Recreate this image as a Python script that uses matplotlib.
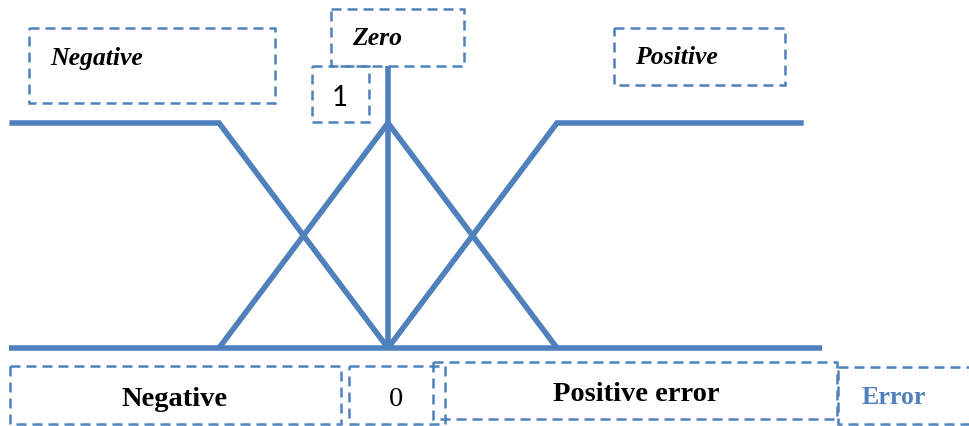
import matplotlib.pyplot as plt
from matplotlib.patches import Rectangle

# Membership functions (error axis, membership degree)
neg_x = [-2.24, -1.0, 0.0]
neg_mu = [1.0, 1.0, 0.0]
zero_x = [-1.0, 0.0, 1.0]
zero_mu = [0.0, 1.0, 0.0]
pos_x = [0.0, 1.0, 2.46]
pos_mu = [0.0, 1.0, 1.0]
base_x = [-2.24, 2.57]
axis_top = 1.253

blue = '#4F81BD'
serif = 'Liberation Serif'

fig = plt.figure(figsize=(9.7, 4.27), dpi=100)
ax = fig.add_axes([0, 0, 1, 1])
ax.set_xlim(-2.296, 3.444)
ax.set_ylim(-0.3467, 1.551)
ax.axis('off')

lw = 4.0
kw = dict(color=blue, lw=lw, solid_joinstyle='miter', solid_capstyle='butt')
ax.plot(base_x, [0, 0], **kw)
ax.plot([0, 0], [0, axis_top], **kw)
ax.plot(neg_x, neg_mu, **kw)
ax.plot(zero_x, zero_mu, **kw)
ax.plot(pos_x, pos_mu, **kw)

# overlay in pixel coordinates for the dashed label boxes
ov = fig.add_axes([0, 0, 1, 1])
ov.set_xlim(0, 970)
ov.set_ylim(427, 0)
ov.axis('off')
ov.patch.set_alpha(0)

boxes = [
    (29, 29, 246, 75),    # Negative (top)
    (331, 10, 133, 57),   # Zero
    (312, 67, 57, 56),    # 1
    (614, 29, 171, 57),   # Positive (top)
    (10, 367, 331, 58),   # Negative (bottom)
    (349, 367, 96, 58),   # 0
    (433, 363, 404, 57),  # Positive error
    (838, 368, 170, 57),  # Error (runs off the right edge)
]
for x, y, w, h in boxes:
    ov.add_patch(Rectangle((x, y), w, h, fill=False, edgecolor=blue,
                           lw=1.8, linestyle=(0, (4.0, 2.4)), clip_on=True))

ov.text(50, 65, 'Negative', family=serif, style='italic', weight='bold',
        fontsize=18.5, va='baseline', ha='left')
ov.text(352, 45, 'Zero', family=serif, style='italic', weight='bold',
        fontsize=18.5, va='baseline', ha='left')
ov.text(635, 64, 'Positive', family=serif, style='italic', weight='bold',
        fontsize=18.5, va='baseline', ha='left')
ov.text(340, 106, '1', family='Lato', fontsize=20, va='baseline', ha='center')
ov.text(175, 406, 'Negative', family=serif, weight='bold',
        fontsize=20.5, va='baseline', ha='center')
ov.text(396, 406, '0', family=serif, fontsize=20.5, va='baseline', ha='center')
ov.text(636, 401, 'Positive error', family=serif, weight='bold',
        fontsize=20.5, va='baseline', ha='center')
ov.text(862, 404, 'Error', family=serif, weight='bold', color=blue,
        fontsize=18.7, va='baseline', ha='left')

plt.savefig('out.png', dpi=100)
